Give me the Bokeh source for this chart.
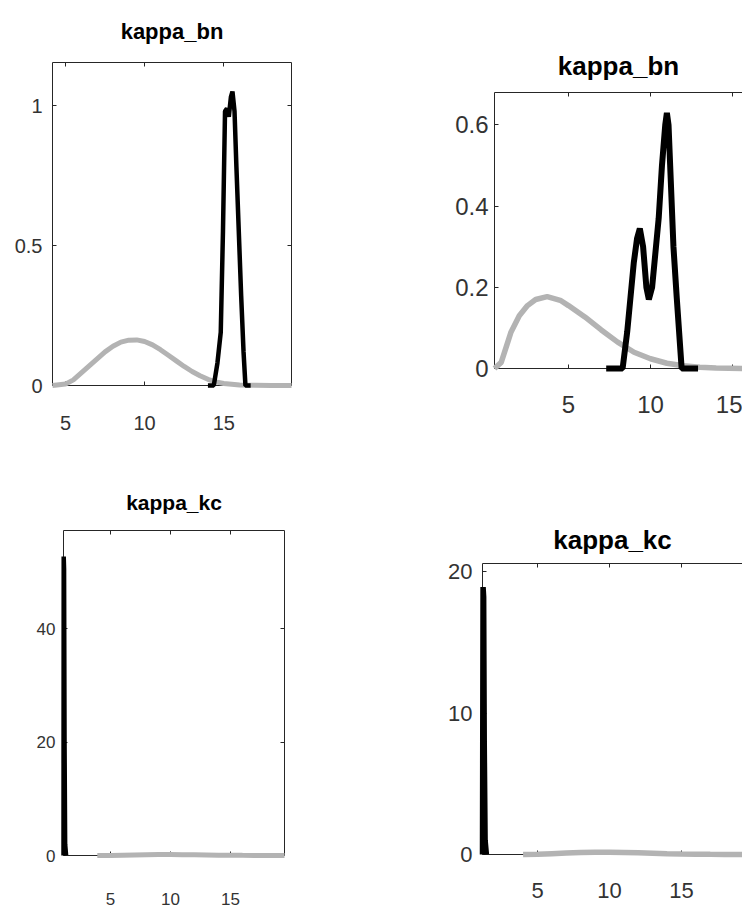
from bokeh.plotting import figure
from bokeh.layouts import column, row
from bokeh.models import LinearAxis, FixedTicker, Range1d, CustomJSTickFormatter, Spacer
from bokeh.embed import file_html
from bokeh.resources import INLINE

FONT = "Liberation Sans"
GRAY = "#b3b3b3"
AXC = "#262626"

# ---------------- data ----------------
titles = ["kappa_bn", "kappa_bn", "kappa_kc", "kappa_kc"]

# top-left: kappa_bn
tl_prior_x = [4.18, 5.0, 5.5, 6.0, 6.5, 7.0, 7.5, 8.0, 8.5, 9.0, 9.5, 10.0, 10.5, 11.0,
              11.5, 12.0, 12.5, 13.0, 13.5, 14.0, 14.5, 15.0, 16.0, 17.0, 18.0, 19.28]
tl_prior_y = [0.0, 0.005, 0.02, 0.045, 0.07, 0.095, 0.12, 0.14, 0.155, 0.162, 0.163, 0.157,
              0.145, 0.128, 0.108, 0.088, 0.068, 0.05, 0.035, 0.022, 0.013, 0.007, 0.002,
              0.001, 0.0, 0.0]
tl_post_x = [14.0, 14.37, 14.6, 14.81, 14.95, 15.08, 15.2, 15.32, 15.45, 15.55, 15.68,
             15.8, 15.95, 16.1, 16.25, 16.37, 16.7]
tl_post_y = [0.0, 0.0, 0.08, 0.19, 0.55, 0.98, 0.99, 0.96, 1.03, 1.05, 0.98, 0.78, 0.55,
             0.32, 0.12, 0.0, 0.0]
tl_xticks = [5, 10, 15]
tl_yticks = [0, 0.5, 1]

# top-right: kappa_bn
tr_prior_x = [0.49, 0.9, 1.5, 2.0, 2.5, 3.0, 3.7, 4.5, 5.0, 6.0, 7.0, 8.0, 9.0, 10.0,
              11.0, 12.0, 13.0, 14.0, 15.61]
tr_prior_y = [0.0, 0.015, 0.09, 0.13, 0.155, 0.17, 0.177, 0.168, 0.155, 0.127, 0.095,
              0.065, 0.04, 0.024, 0.013, 0.007, 0.003, 0.001, 0.0]
tr_post_x = [7.3, 8.3, 8.58, 8.98, 9.18, 9.35, 9.55, 9.75, 9.9, 10.1, 10.5, 10.7, 10.9,
             11.0, 11.1, 11.2, 11.4, 11.6, 11.9, 12.9]
tr_post_y = [0.0, 0.0, 0.09, 0.26, 0.32, 0.345, 0.3, 0.2, 0.17, 0.2, 0.37, 0.5, 0.6,
             0.63, 0.6, 0.5, 0.3, 0.175, 0.0, 0.0]
tr_xticks = [5, 10, 15]
tr_yticks = [0, 0.2, 0.4, 0.6]

# bottom-left: kappa_kc
bl_prior_x = [3.9, 5.0, 6.0, 7.0, 8.0, 9.0, 10.0, 11.0, 12.0, 13.0, 14.0, 15.0, 16.0,
              17.0, 18.0, 19.5]
bl_prior_y = [0.0, 0.02, 0.06, 0.1, 0.14, 0.16, 0.165, 0.15, 0.12, 0.09, 0.06, 0.04,
              0.025, 0.015, 0.008, 0.003]
bl_post_x = [1.083, 1.1, 1.13, 1.17, 1.22, 1.3]
bl_post_y = [0.0, 52.7, 50.5, 20.0, 2.0, 0.0]
bl_xticks = [5, 10, 15]
bl_yticks = [0, 20, 40]

# bottom-right: kappa_kc
br_prior_x = [4.0, 5.0, 6.0, 7.0, 8.0, 9.0, 10.0, 11.0, 12.0, 13.0, 14.0, 15.0, 16.0,
              17.0, 18.0, 19.24]
br_prior_y = [0.0, 0.02, 0.06, 0.1, 0.14, 0.16, 0.165, 0.15, 0.12, 0.09, 0.06, 0.04,
              0.025, 0.015, 0.008, 0.003]
br_post_x = [1.18, 1.22, 1.26, 1.3, 1.36, 1.45]
br_post_y = [0.0, 18.9, 18.2, 8.0, 1.0, 0.0]
br_xticks = [5, 10, 15]
br_yticks = [0, 10, 20]


def style_axis(ax, ticks, fs, standoff, labels=True):
    ax.ticker = FixedTicker(ticks=ticks)
    ax.axis_line_color = AXC
    ax.axis_line_width = 1
    ax.major_tick_line_color = AXC
    ax.major_tick_in = 4
    ax.major_tick_out = 0
    ax.minor_tick_line_color = None
    ax.major_label_text_font = FONT
    ax.major_label_text_font_size = fs
    ax.major_label_text_color = "#333333"
    ax.major_label_standoff = standoff
    if not labels:
        ax.formatter = CustomJSTickFormatter(code="return ''")
        ax.major_label_text_font_size = "0px"
        ax.major_label_standoff = 0


def panel(title, px, py, qx, qy, xr, yr, xticks, yticks, fw, fh, bl, bt, br, bb,
          tick_fs, title_fs, xstand, ystand, title_gap, gw, kw, box_right=True):
    p = figure(frame_width=fw, frame_height=fh, min_border_left=bl, min_border_top=bt,
               min_border_right=br, min_border_bottom=bb,
               x_range=Range1d(*xr), y_range=Range1d(*yr),
               output_backend="svg", toolbar_location=None, tools="")
    p.outline_line_color = None
    p.grid.visible = False
    p.background_fill_color = "white"
    p.border_fill_color = "white"
    style_axis(p.xaxis[0], xticks, tick_fs, xstand)
    style_axis(p.yaxis[0], yticks, tick_fs, ystand)
    # top edge of the box; its axis label carries the panel title
    top = LinearAxis()
    style_axis(top, xticks, tick_fs, 0, labels=False)
    top.axis_label = title
    top.axis_label_text_font = FONT
    top.axis_label_text_font_style = "bold"
    top.axis_label_text_font_size = title_fs
    top.axis_label_text_color = "black"
    top.axis_label_standoff = title_gap
    p.add_layout(top, "above")
    if box_right:
        right = LinearAxis()
        style_axis(right, yticks, tick_fs, 0, labels=False)
        p.add_layout(right, "right")
    p.line(px, py, line_color=GRAY, line_width=gw, level="overlay")
    p.line(qx, qy, line_color="black", line_width=kw, level="overlay")
    return p


# frame tops in page pixels: 62, 92, 530, 563; row 2 starts at 435
T_TL, S_TL = 62, 0
T_TR, S_TR = 59, 33
T_BL, S_BL = 65, 30
T_BR, S_BR = 59, 69
B1, B2 = 50, 60

tl = panel(titles[0], tl_prior_x, tl_prior_y, tl_post_x, tl_post_y,
           (4.18, 19.28), (0, 1.154), tl_xticks, tl_yticks,
           239, 323, 52, T_TL, 20, B1, "20px", "22px", 30, 10, 19, 5, 4.5)
tr = panel(titles[1], tr_prior_x, tr_prior_y, tr_post_x, tr_post_y,
           (0.49, 15.61), (0, 0.68), tr_xticks, tr_yticks,
           248, 276, 183, T_TR, 0, B1, "24px", "26px", 27, 6, 12, 5.5, 6,
           box_right=False)
bl = panel(titles[2], bl_prior_x, bl_prior_y, bl_post_x, bl_post_y,
           (1.083, 19.5), (0, 57.3), bl_xticks, bl_yticks,
           221, 325, 63, T_BL, 20, B2, "17px", "21px", 37, 8, 17, 5, 4.5)
br = panel(titles[3], br_prior_x, br_prior_y, br_post_x, br_post_y,
           (1.18, 19.24), (0, 20.57), br_xticks, br_yticks,
           260, 291, 178, T_BR, 0, B2, "22px", "26px", 28, 10, 9, 5.5, 5.5,
           box_right=False)


def stack(sp, w, fig):
    if sp > 0:
        return column(Spacer(height=sp, width=w), fig, spacing=0)
    return column(fig, spacing=0)


row1 = row(stack(S_TL, 311, tl), stack(S_TR, 431, tr), spacing=0)
row2 = row(stack(S_BL, 304, bl), stack(S_BR, 438, br), spacing=0)
layout = column(row1, row2, spacing=0)

with open("out.html", "w") as f:
    f.write(file_html(layout, INLINE))
